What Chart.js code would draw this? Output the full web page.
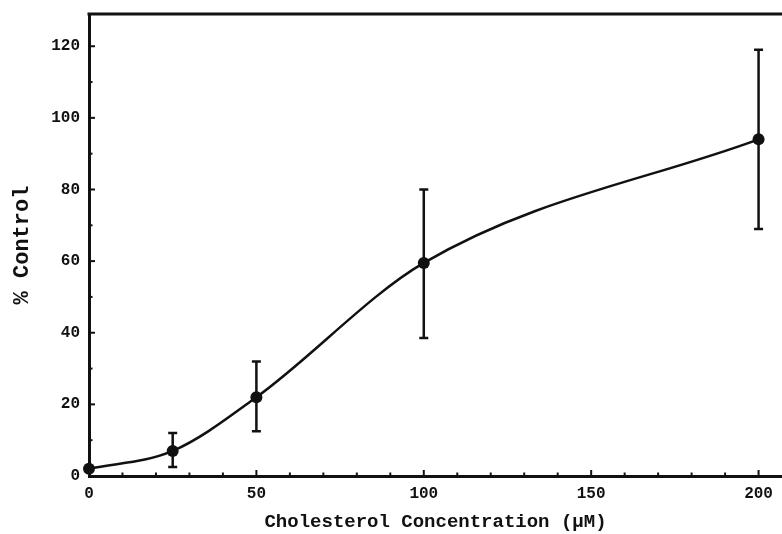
<!DOCTYPE html>
<html>
<head>
<meta charset="utf-8">
<script src="https://cdn.jsdelivr.net/npm/chart.js@4/dist/chart.umd.min.js"></script>
<style>
  html, body { margin: 0; padding: 0; background: #fff; }
  #wrap { width: 782px; height: 534px; }
</style>
</head>
<body>
<div id="wrap"><canvas id="chol"></canvas></div>
<script>
// valores
const concentration = [0, 25, 50, 100, 200];
const percentControl = [2, 7, 22, 59.5, 94];
const errLow = [null, 2.5, 12.5, 38.5, 69];
const errHigh = [null, 12, 32, 80, 119];
const xTicks = [0, 50, 100, 150, 200];
const xMinor = [10, 20, 30, 40, 60, 70, 80, 90, 110, 120, 130, 140, 160, 170, 180, 190];
const yTicks = [0, 20, 40, 60, 80, 100, 120];
const yMinor = [10, 30, 50, 70, 90, 110];

const ink = "#111";

// barras de error, ticks hacia adentro y linea de arriba
const extras = {
    id: "extras",
    afterDatasetsDraw(chart) {
        const ctx = chart.ctx;
        const x = chart.scales.x;
        const y = chart.scales.y;
        const area = chart.chartArea;
        ctx.save();
        ctx.strokeStyle = ink;
        ctx.lineWidth = 2.5;
        concentration.forEach((c, i) => {
            if (errLow[i] === null) return;
            const px = x.getPixelForValue(c);
            const top = y.getPixelForValue(errHigh[i]);
            const bot = y.getPixelForValue(errLow[i]);
            ctx.beginPath();
            ctx.moveTo(px, top); ctx.lineTo(px, bot);
            ctx.moveTo(px - 4.5, top); ctx.lineTo(px + 4.5, top);
            ctx.moveTo(px - 4.5, bot); ctx.lineTo(px + 4.5, bot);
            ctx.stroke();
        });
        ctx.lineWidth = 2;
        const tick = (v, len, horiz) => {
            ctx.beginPath();
            if (horiz) {
                const px = x.getPixelForValue(v);
                ctx.moveTo(px, area.bottom); ctx.lineTo(px, area.bottom - len);
            } else {
                const py = y.getPixelForValue(v);
                ctx.moveTo(area.left, py); ctx.lineTo(area.left + len, py);
            }
            ctx.stroke();
        };
        xTicks.forEach(v => tick(v, 6, true));
        xMinor.forEach(v => tick(v, 3.5, true));
        yTicks.forEach(v => tick(v, 6, false));
        yMinor.forEach(v => tick(v, 3.5, false));
        ctx.lineWidth = 3;
        ctx.beginPath();
        ctx.moveTo(area.left - 1.5, area.top);
        ctx.lineTo(chart.width, area.top);
        ctx.stroke();
        ctx.restore();
    }
};

const font = "'Liberation Mono', 'DejaVu Sans Mono', monospace";

new Chart(document.getElementById("chol").getContext("2d"), {
    type: "scatter",
    data: {
        datasets: [{
            label: "% Control",
            data: concentration.map((c, i) => ({ x: c, y: percentControl[i] })),
            showLine: true,
            cubicInterpolationMode: "monotone",
            borderColor: ink,
            borderWidth: 2.5,
            pointRadius: 6,
            pointBackgroundColor: ink,
            pointBorderColor: ink,
            pointBorderWidth: 0,
            clip: false
        }]
    },
    options: {
        responsive: true,
        maintainAspectRatio: false,
        animation: false,
        layout: { autoPadding: false, padding: { top: 14, right: 0, left: 0, bottom: 0 } },
        plugins: {
            legend: { display: false },
            tooltip: { enabled: false }
        },
        scales: {
            x: {
                type: "linear",
                min: 0,
                max: 207,
                afterBuildTicks: s => { s.ticks = xTicks.map(v => ({ value: v })); },
                afterFit: s => { s.height = 58; s.paddingRight = 0; s.paddingLeft = 0; },
                grid: { display: false, drawTicks: false },
                border: { color: ink, width: 3 },
                ticks: { padding: 8, color: ink, maxRotation: 0, font: { family: font, size: 16, weight: "bold" } },
                title: {
                    display: true,
                    text: "Cholesterol Concentration (μM)",
                    color: ink,
                    padding: { top: 6, bottom: 0 },
                    font: { family: font, size: 19, weight: "bold" }
                }
            },
            y: {
                min: 0,
                max: 129,
                afterBuildTicks: s => { s.ticks = yTicks.map(v => ({ value: v })); },
                afterFit: s => { s.width = 89; s.paddingTop = 0; s.paddingBottom = 0; },
                grid: { display: false, drawTicks: false },
                border: { color: ink, width: 3 },
                ticks: { padding: 9, color: ink, font: { family: font, size: 16, weight: "bold" } },
                title: {
                    display: true,
                    text: "% Control",
                    color: ink,
                    padding: { top: 9, bottom: 0 },
                    font: { family: font, size: 22, weight: "bold" }
                }
            }
        }
    },
    plugins: [extras]
});
</script>
</body>
</html>
